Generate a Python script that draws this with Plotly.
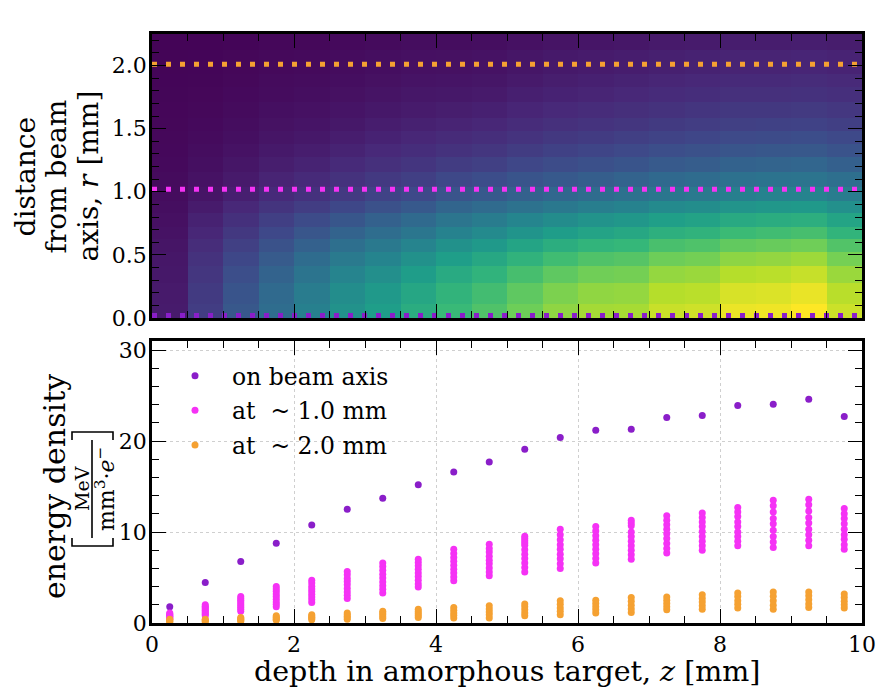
import plotly.graph_objects as go

# ---------------- data ----------------
z_edges = [0.0, 0.5, 1.0, 1.5, 2.0, 2.5, 3.0, 3.5, 4.0, 4.5, 5.0,
           5.5, 6.0, 6.5, 7.0, 7.5, 8.0, 8.5, 9.0, 9.5, 10.0]
r_edges = [0.0, 0.11, 0.28, 0.41, 0.52, 0.625, 0.72, 0.83, 0.93, 1.04,
           1.16, 1.275, 1.375, 1.485, 1.585, 1.71, 1.83, 1.93, 2.12, 2.25]
depth_centers = [0.25, 0.75, 1.25, 1.75, 2.25, 2.75, 3.25, 3.75, 4.25, 4.75,
                 5.25, 5.75, 6.25, 6.75, 7.25, 7.75, 8.25, 8.75, 9.25, 9.75]

# heat map: one radial profile (r ascending) per depth bin
heat_cols = [
    [1.80, 1.74, 1.63, 1.51, 1.37, 1.22, 1.08, 0.91, 0.75, 0.67, 0.59, 0.52, 0.46, 0.41, 0.36, 0.32, 0.29, 0.25, 0.21],
    [4.45, 4.25, 3.92, 3.53, 3.11, 2.67, 2.28, 1.81, 1.40, 1.19, 0.98, 0.82, 0.69, 0.58, 0.48, 0.40, 0.34, 0.28, 0.22],
    [6.75, 6.44, 5.94, 5.34, 4.70, 4.04, 3.43, 2.71, 2.10, 1.78, 1.46, 1.22, 1.01, 0.84, 0.70, 0.58, 0.49, 0.40, 0.31],
    [8.76, 8.38, 7.75, 7.03, 6.22, 5.39, 4.62, 3.70, 2.90, 2.46, 2.01, 1.68, 1.39, 1.16, 0.97, 0.79, 0.67, 0.55, 0.43],
    [10.77, 10.30, 9.51, 8.61, 7.60, 6.57, 5.61, 4.48, 3.50, 2.94, 2.39, 1.98, 1.63, 1.35, 1.12, 0.91, 0.76, 0.62, 0.48],
    [12.50, 11.96, 11.09, 10.05, 8.91, 7.74, 6.64, 5.34, 4.20, 3.54, 2.88, 2.38, 1.97, 1.63, 1.35, 1.10, 0.92, 0.75, 0.58],
    [13.70, 13.15, 12.25, 11.17, 9.99, 8.75, 7.59, 6.19, 4.95, 4.17, 3.40, 2.82, 2.34, 1.94, 1.61, 1.31, 1.10, 0.90, 0.70],
    [15.20, 14.59, 13.59, 12.40, 11.10, 9.71, 8.42, 6.87, 5.50, 4.66, 3.82, 3.18, 2.65, 2.21, 1.84, 1.51, 1.28, 1.05, 0.82],
    [16.60, 15.99, 14.94, 13.71, 12.35, 10.92, 9.55, 7.90, 6.40, 5.37, 4.35, 3.58, 2.95, 2.43, 2.00, 1.62, 1.36, 1.10, 0.85],
    [17.70, 17.05, 15.95, 14.67, 13.22, 11.70, 10.25, 8.50, 6.90, 5.79, 4.70, 3.88, 3.19, 2.64, 2.17, 1.77, 1.48, 1.20, 0.92],
    [19.10, 18.41, 17.27, 15.89, 14.34, 12.72, 11.19, 9.30, 7.60, 6.44, 5.27, 4.40, 3.66, 3.06, 2.55, 2.09, 1.77, 1.45, 1.13],
    [20.40, 19.67, 18.42, 16.95, 15.32, 13.59, 11.93, 9.91, 8.10, 6.91, 5.71, 4.80, 4.03, 3.38, 2.84, 2.34, 2.00, 1.65, 1.30],
    [21.20, 20.46, 19.21, 17.70, 16.03, 14.25, 12.57, 10.49, 8.60, 7.35, 6.10, 5.13, 4.33, 3.64, 3.06, 2.54, 2.18, 1.80, 1.42],
    [21.30, 20.60, 19.38, 17.98, 16.36, 14.65, 13.01, 10.97, 9.10, 7.80, 6.48, 5.48, 4.62, 3.90, 3.29, 2.74, 2.35, 1.95, 1.55],
    [22.60, 21.85, 20.59, 19.07, 17.38, 15.57, 13.83, 11.68, 9.70, 8.34, 6.96, 5.90, 5.00, 4.24, 3.59, 3.00, 2.58, 2.15, 1.72],
    [22.80, 22.07, 20.82, 19.33, 17.67, 15.87, 14.14, 11.99, 10.00, 8.63, 7.24, 6.16, 5.24, 4.45, 3.79, 3.18, 2.74, 2.30, 1.84],
    [23.90, 23.14, 21.87, 20.32, 18.57, 16.71, 14.91, 12.67, 10.60, 9.16, 7.69, 6.54, 5.57, 4.74, 4.04, 3.38, 2.92, 2.45, 1.96],
    [24.05, 23.30, 22.05, 20.54, 18.83, 16.98, 15.20, 12.99, 10.90, 9.40, 7.85, 6.66, 5.65, 4.80, 4.07, 3.40, 2.93, 2.45, 1.96],
    [24.60, 23.84, 22.51, 20.93, 19.16, 17.27, 15.42, 13.14, 11.00, 9.50, 7.98, 6.79, 5.79, 4.92, 4.19, 3.52, 3.04, 2.55, 2.05],
    [22.70, 22.00, 20.82, 19.39, 17.77, 16.03, 14.35, 12.26, 10.30, 8.90, 7.48, 6.38, 5.43, 4.62, 3.94, 3.31, 2.86, 2.40, 1.93],
]

on_axis = [1.8, 4.45, 6.75, 8.76, 10.77, 12.5, 13.7, 15.2, 16.6, 17.7,
           19.1, 20.4, 21.2, 21.3, 22.6, 22.8, 23.9, 24.05, 24.6, 22.7]

ring_1mm = [
    [0.40, 0.50, 0.58, 0.66, 0.75, 0.83, 0.92, 1.00, 1.10],
    [0.80, 0.95, 1.10, 1.25, 1.40, 1.55, 1.70, 1.85, 2.00],
    [1.30, 1.50, 1.70, 1.90, 2.10, 2.30, 2.50, 2.70, 2.90],
    [1.80, 2.05, 2.30, 2.60, 2.90, 3.20, 3.50, 3.75, 4.00],
    [2.25, 2.55, 2.85, 3.15, 3.45, 3.75, 4.05, 4.40, 4.70],
    [2.70, 3.05, 3.40, 3.80, 4.20, 4.55, 4.90, 5.30, 5.65],
    [3.30, 3.70, 4.10, 4.50, 4.95, 5.35, 5.80, 6.20, 6.60],
    [3.95, 4.30, 4.70, 5.10, 5.50, 5.90, 6.30, 6.65, 7.00],
    [4.65, 5.05, 5.50, 5.90, 6.35, 6.80, 7.20, 7.65, 8.10],
    [5.20, 5.60, 6.05, 6.50, 6.90, 7.35, 7.80, 8.20, 8.65],
    [5.60, 6.10, 6.60, 7.10, 7.55, 8.05, 8.55, 8.80, 9.05, 9.30, 9.55],
    [6.00, 6.50, 7.05, 7.55, 8.10, 8.60, 9.15, 9.70, 10.30],
    [6.60, 7.10, 7.60, 8.10, 8.60, 9.10, 9.60, 10.10, 10.60],
    [7.00, 7.50, 8.00, 8.50, 9.00, 9.50, 10.00, 10.70, 11.00, 11.30],
    [7.70, 8.20, 8.75, 9.30, 9.80, 10.30, 10.80, 11.30, 11.80],
    [8.00, 8.50, 9.00, 9.50, 10.05, 10.60, 11.10, 11.60, 12.10],
    [8.50, 9.00, 9.50, 10.00, 10.60, 11.10, 11.70, 12.20, 12.70],
    [8.30, 8.90, 9.50, 10.20, 10.90, 11.50, 12.20, 12.90, 13.50],
    [8.50, 9.10, 9.70, 10.30, 11.00, 11.60, 12.30, 13.00, 13.60],
    [8.10, 8.60, 9.20, 9.70, 10.30, 10.90, 11.50, 12.00, 12.60],
]

ring_2mm = [
    [0.10, 0.20, 0.30, 0.40],
    [0.15, 0.25, 0.32, 0.40],
    [0.20, 0.30, 0.40, 0.50, 0.60],
    [0.30, 0.42, 0.55, 0.67, 0.80],
    [0.35, 0.50, 0.62, 0.76, 0.90],
    [0.40, 0.58, 0.75, 0.92, 1.10],
    [0.50, 0.70, 0.90, 1.10, 1.30],
    [0.60, 0.82, 1.05, 1.27, 1.50],
    [0.55, 0.85, 1.10, 1.40, 1.70],
    [0.55, 0.90, 1.20, 1.55, 1.90],
    [0.80, 1.10, 1.45, 1.80, 2.10],
    [0.90, 1.30, 1.65, 2.05, 2.45],
    [1.10, 1.45, 1.80, 2.15, 2.50],
    [1.15, 1.55, 1.95, 2.40, 2.80],
    [1.45, 1.80, 2.15, 2.50, 2.85],
    [1.50, 1.90, 2.30, 2.70, 3.10],
    [1.65, 2.05, 2.45, 2.90, 3.30],
    [1.50, 1.95, 2.45, 2.95, 3.40],
    [1.70, 2.10, 2.55, 3.00, 3.40],
    [1.65, 2.00, 2.40, 2.80, 3.20],
]

line_levels = [0.02, 1.02, 2.01]
series_names = ["on beam axis", "at  ~ 1.0 mm", "at  ~ 2.0 mm"]
series_colors = ["#8a1ec9", "#f532f5", "#f5a132"]

# ---------------- geometry (pixels) ----------------
W, H = 879, 690
L_PX, R_PX, T_PX, B_PX = 152, 862, 34, 623
TOP_BOTTOM_PX, BOT_TOP_PX = 318, 341
PW, PH = R_PX - L_PX, B_PX - T_PX


def px(xp):
    return (xp - L_PX) / PW


def py(yp):
    return (B_PX - yp) / PH


FONT = "DejaVu Serif"

fig = go.Figure()

heat_z = [[heat_cols[j][i] for j in range(len(heat_cols))] for i in range(len(r_edges) - 1)]
fig.add_trace(go.Heatmap(
    x=z_edges, y=r_edges, z=heat_z, colorscale="Viridis", zmin=0, zmax=max(on_axis),
    showscale=False, xaxis="x", yaxis="y", hoverinfo="skip"))

for lvl, col in zip(line_levels, series_colors):
    fig.add_trace(go.Scatter(
        x=[z_edges[0], z_edges[-1]], y=[lvl, lvl], mode="lines",
        line=dict(color=col, width=5, dash="5px,9px"),
        showlegend=False, xaxis="x", yaxis="y", hoverinfo="skip"))

# bottom scatter
fig.add_trace(go.Scatter(
    x=depth_centers, y=on_axis, mode="markers", name=series_names[0],
    marker=dict(color=series_colors[0], size=7), legendgroup="a",
    xaxis="x2", yaxis="y2"))

x1, y1 = [], []
for zc, vals in zip(depth_centers, ring_1mm):
    x1 += [zc] * len(vals)
    y1 += vals
fig.add_trace(go.Scatter(
    x=x1, y=y1, mode="markers", name=series_names[1],
    marker=dict(color=series_colors[1], size=7), legendgroup="b",
    xaxis="x2", yaxis="y2"))

x2, y2 = [], []
for zc, vals in zip(depth_centers, ring_2mm):
    x2 += [zc] * len(vals)
    y2 += vals
fig.add_trace(go.Scatter(
    x=x2, y=y2, mode="markers", name=series_names[2],
    marker=dict(color=series_colors[2], size=7), legendgroup="c",
    xaxis="x2", yaxis="y2"))

axis_common = dict(
    showline=True, linecolor="black", linewidth=2.5, mirror="allticks",
    ticks="inside", ticklen=14, tickwidth=1.3, tickcolor="black",
    tickfont=dict(family=FONT, size=22, color="black"),
    automargin=False, zeroline=False,
)

fig.update_layout(
    width=W, height=H, template="none",
    paper_bgcolor="white", plot_bgcolor="white",
    margin=dict(l=L_PX, r=W - R_PX, t=T_PX, b=H - B_PX, pad=0),
    font=dict(family=FONT, size=22, color="black"),
    xaxis=dict(domain=[0, 1], anchor="y", range=[0, 10], dtick=2, tick0=0,
               showticklabels=False, showgrid=False,
               minor=dict(ticks="inside", ticklen=7, dtick=0.5, tickwidth=1.2,
                          tickcolor="black", showgrid=False),
               **axis_common),
    yaxis=dict(domain=[py(TOP_BOTTOM_PX), 1], anchor="x", range=[0, 2.25], dtick=0.5,
               tick0=0, tickformat=".1f", showgrid=False, ticklabelstandoff=-2,
               minor=dict(ticks="inside", ticklen=7, dtick=0.1, tickwidth=1.2,
                          tickcolor="black", showgrid=False),
               **axis_common),
    xaxis2=dict(domain=[0, 1], anchor="y2", range=[0, 10], dtick=2, tick0=0,
                showgrid=True, gridcolor="#cfcfcf", griddash="dot", gridwidth=1,
                minor=dict(ticks="inside", ticklen=7, dtick=0.5, tickwidth=1.2,
                           tickcolor="black", showgrid=False),
                **axis_common),
    yaxis2=dict(domain=[0, py(BOT_TOP_PX)], anchor="x2", range=[0, 31], dtick=10,
                tick0=0, showgrid=True, gridcolor="#cfcfcf", griddash="dot", gridwidth=1,
                ticklabelstandoff=-2,
                minor=dict(ticks="inside", ticklen=7, dtick=2, tickwidth=1.2,
                           tickcolor="black", showgrid=False),
                **axis_common),
    legend=dict(x=px(158), y=py(354), xanchor="left", yanchor="top",
                font=dict(family=FONT, size=23.5, color="black"),
                bgcolor="rgba(0,0,0,0)", borderwidth=0, itemwidth=64,
                traceorder="grouped", tracegroupgap=1),
    showlegend=True,
)

ann = []
# x-axis title
ann.append(dict(text="depth in amorphous target, <i>z</i> [mm]", x=px((L_PX + R_PX) / 2),
                y=py(671), xref="paper", yref="paper", showarrow=False,
                xanchor="center", yanchor="middle", font=dict(family=FONT, size=28.5)))
# top y-axis title lines
for txt, xc in [("distance", 25), ("from beam", 56), ("axis, <i>r</i> [mm]", 88)]:
    ann.append(dict(text=txt, x=px(xc), y=py(176.5), xref="paper", yref="paper",
                    showarrow=False, textangle=-90, xanchor="center", yanchor="middle",
                    font=dict(family=FONT, size=28)))
# bottom y-axis title
ann.append(dict(text="energy density", x=px(54), y=py(486), xref="paper", yref="paper",
                showarrow=False, textangle=-90, xanchor="center", yanchor="middle",
                font=dict(family=FONT, size=30)))
ann.append(dict(text="MeV", x=px(82), y=py(489), xref="paper", yref="paper",
                showarrow=False, textangle=-90, xanchor="center", yanchor="middle",
                font=dict(family=FONT, size=19)))
ann.append(dict(text="mm<sup>3</sup>·<i>e</i><sup>−</sup>", x=px(105), y=py(489),
                xref="paper", yref="paper", showarrow=False, textangle=-90,
                xanchor="center", yanchor="middle", font=dict(family=FONT, size=22)))
fig.update_layout(annotations=ann)

shapes = [
    dict(type="line", xref="paper", yref="paper", x0=px(92), x1=px(92), y0=py(440), y1=py(538),
         line=dict(color="black", width=1.6)),
    dict(type="path", xref="paper", yref="paper",
         path=f"M {px(72)},{py(538)} L {px(72)},{py(546)} L {px(113)},{py(546)} L {px(113)},{py(538)}",
         line=dict(color="black", width=1.6)),
    dict(type="path", xref="paper", yref="paper",
         path=f"M {px(72)},{py(440)} L {px(72)},{py(432)} L {px(113)},{py(432)} L {px(113)},{py(440)}",
         line=dict(color="black", width=1.6)),
]
fig.update_layout(shapes=shapes)

# remove the default 8px page margin so the figure fills the window exactly
fig.write_html("out.html", config={"displayModeBar": False},
               post_script="document.body.style.margin='0';document.body.style.overflow='hidden';")
